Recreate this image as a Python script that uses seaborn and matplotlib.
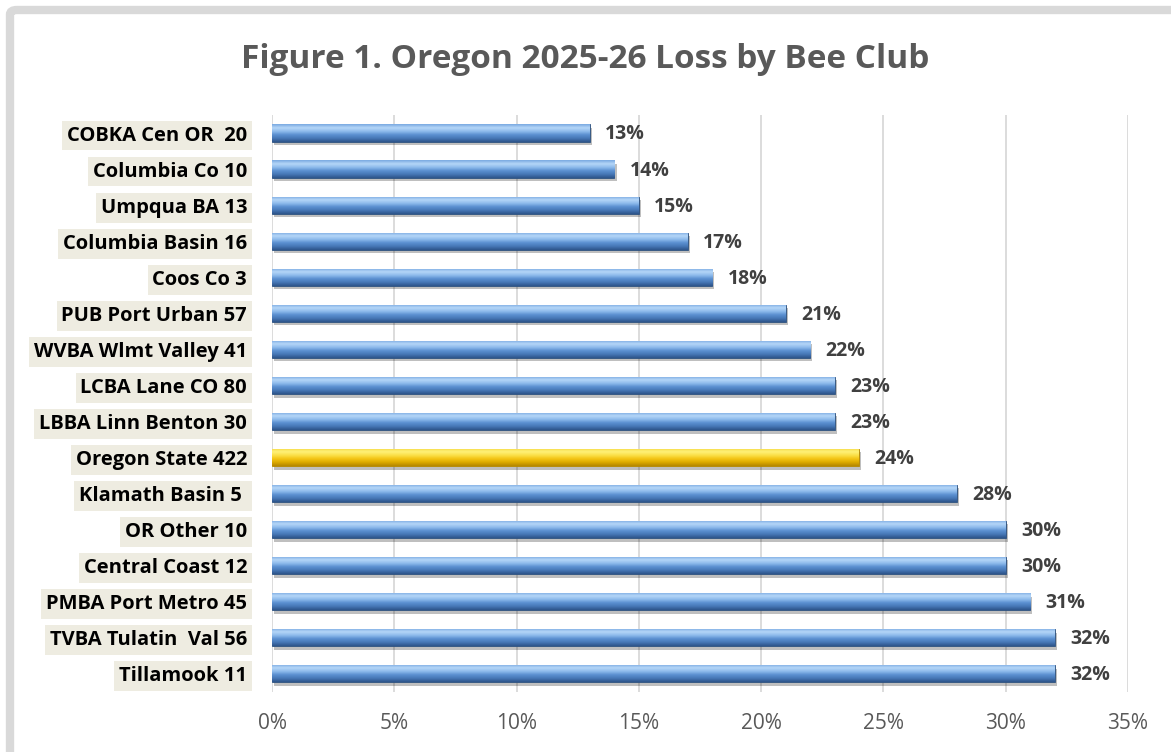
"""
Oregon 2025-26 colony loss by bee club - horizontal bar chart
"""

import matplotlib
matplotlib.use("Agg")

import matplotlib.pyplot as plt
import matplotlib.patheffects as pe
import numpy as np
import pandas as pd
import seaborn as sns
from matplotlib.colors import LinearSegmentedColormap
from matplotlib.patches import FancyBboxPatch
from matplotlib.ticker import FuncFormatter, MultipleLocator

CLUBS = [
    "COBKA Cen OR  20", "Columbia Co 10", "Umpqua BA 13", "Columbia Basin 16",
    "Coos Co 3", "PUB Port Urban 57", "WVBA Wlmt Valley 41", "LCBA Lane CO 80",
    "LBBA Linn Benton 30", "Oregon State 422", "Klamath Basin 5 ", "OR Other 10",
    "Central Coast 12", "PMBA Port Metro 45", "TVBA Tulatin  Val 56", "Tillamook 11",
]
LOSS_PCT = [13, 14, 15, 17, 18, 21, 22, 23, 23, 24, 28, 30, 30, 31, 32, 32]
HIGHLIGHT = "Oregon State 422"
TITLE = "Figure 1. Oregon 2025-26 Loss by Bee Club"

# gradient stops, top of bar -> bottom of bar
BLUE_STOPS = ["#78a8e0", "#b6d7f8", "#8ebbec", "#5a8fd0", "#4677b6", "#2d5489"]
GOLD_STOPS = ["#f5d840", "#fff27a", "#fbe048", "#f3c414", "#dcaa00", "#b48700"]

sns.set_theme(style="white")
plt.rcParams["font.family"] = ["Open Sans", "DejaVu Sans"]

df = pd.DataFrame({"club": CLUBS, "loss": LOSS_PCT})
palette = {c: ("#f5c400" if c == HIGHLIGHT else "#4f81bd") for c in CLUBS}

fig = plt.figure(figsize=(11.71, 7.52), dpi=100)
ax = fig.add_axes([0.2323, 0.080, 0.7310, 0.767])

sns.barplot(data=df, x="loss", y="club", hue="club", palette=palette,
            orient="h", width=0.48, legend=False, ax=ax, saturation=1)

ax.xaxis.set_major_locator(MultipleLocator(5))
ax.xaxis.set_major_formatter(FuncFormatter(lambda v, _: f"{v:.0f}%"))
ax.grid(axis="x", color="#d9d9d9", linewidth=1.3)
ax.set_axisbelow(True)
for s in ax.spines.values():
    s.set_visible(False)
ax.set_xlabel("")
ax.set_ylabel("")
ax.tick_params(axis="x", length=0, pad=15, labelsize=15, labelcolor="#595959")
ax.tick_params(axis="y", length=0, pad=18, labelsize=14.5)

for lab in ax.get_yticklabels():
    lab.set_fontweight("bold")
    lab.set_color("black")
    lab.set_bbox(dict(boxstyle="square,pad=0.24", facecolor="#eeece1",
                      edgecolor="none"))

# glossy gradient fill on each bar, clipped to the bar's own shape
blue_cmap = LinearSegmentedColormap.from_list("blue", BLUE_STOPS)
gold_cmap = LinearSegmentedColormap.from_list("gold", GOLD_STOPS)
grad = np.linspace(0, 1, 64).reshape(-1, 1)
for bar, club in zip(ax.patches, CLUBS):
    bar.set_edgecolor("#2c4f7c" if club != HIGHLIGHT else "#b08400")
    bar.set_linewidth(0.6)
    bar.set_path_effects([
        pe.SimplePatchShadow(offset=(1.5, -2.5), shadow_rgbFace="#000000", alpha=0.25),
        pe.Normal(),
    ])
    x0, y0 = bar.get_x(), bar.get_y()
    w, h = bar.get_width(), bar.get_height()
    cmap = gold_cmap if club == HIGHLIGHT else blue_cmap
    # y axis is inverted, so y0 is the visual top of the bar
    im = ax.imshow(grad, cmap=cmap, aspect="auto", interpolation="bicubic",
                   extent=(x0, x0 + w, y0 + h, y0), zorder=bar.get_zorder() + 0.1)
    im.set_clip_path(bar)

ax.set_xlim(0, 35)
ax.set_ylim(len(CLUBS) - 0.5, -0.5)

for bar, v in zip(ax.patches, LOSS_PCT):
    ax.annotate(f"{v}%", xy=(bar.get_x() + bar.get_width(), bar.get_y() + bar.get_height() / 2),
                xytext=(11, -1), textcoords="offset points", ha="left", va="center",
                fontsize=14, fontweight="bold", color="#404040")

fig.text(0.5, 1 - 60 / 752, TITLE, ha="center", va="center",
         fontsize=24, fontweight="bold", color="#595959")

frame = FancyBboxPatch((10 / 1171, -0.05), 1.2, 1 - 10 / 752 + 0.05,
                       boxstyle="round,pad=0,rounding_size=0.006",
                       transform=fig.transFigure, facecolor="none",
                       edgecolor="#d9d9d9", linewidth=6, zorder=10)
fig.add_artist(frame)

fig.savefig("out.png", dpi=100)
